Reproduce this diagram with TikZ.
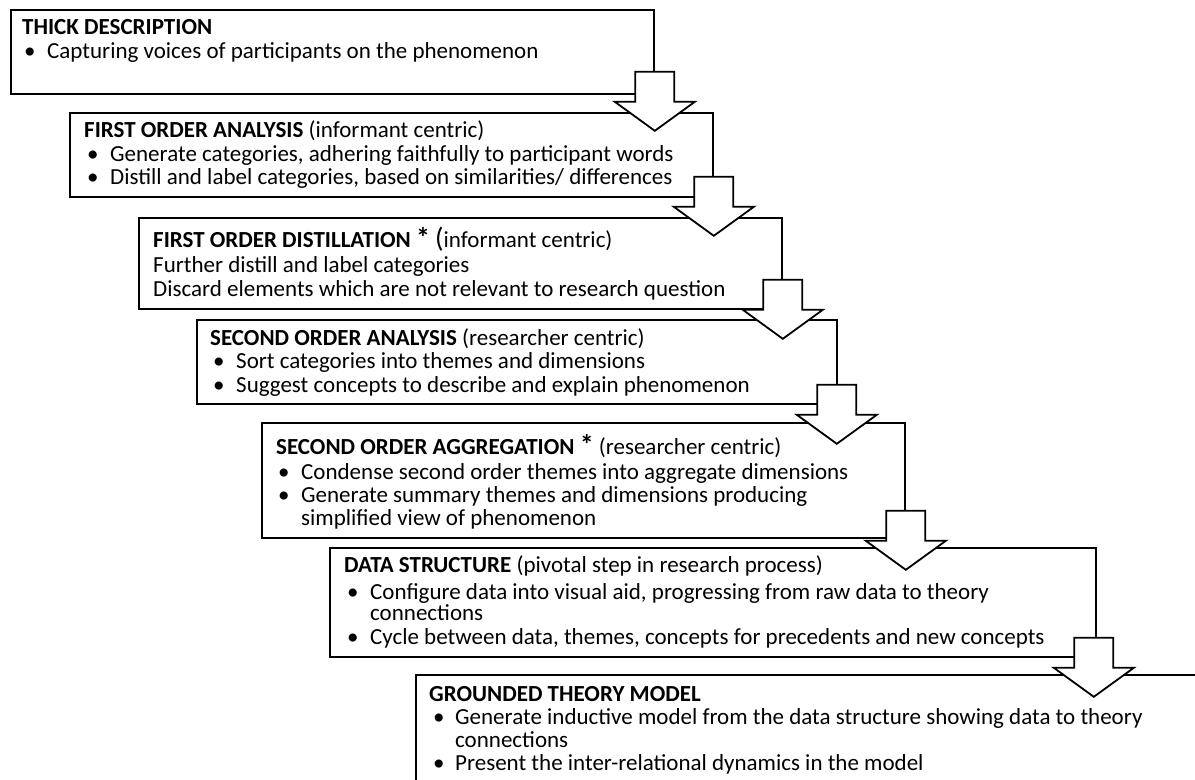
\documentclass[tikz,border=0pt]{standalone}
\usepackage{fontspec}
\setmainfont{Carlito}
\usetikzlibrary{calc}
\tikzset{
  x=1bp, y=-1bp,
  stepbox/.style={draw, line width=1.8bp, inner sep=0, anchor=north west},
  txt/.style={anchor=base west, inner sep=0, font=\fontsize{23bp}{23.5bp}\selectfont},
  barrow/.style={draw, line width=1.8bp, fill=white, line join=miter},
  pics/blockarr/.style={code={\draw[barrow] (-19.5,0) -- (19.5,0) -- (19.5,30) -- (40,30) -- (0,59) -- (-40,30) -- (-19.5,30) -- cycle;}}
}
\newcommand{\bigstar}{{\fontsize{28bp}{28bp}\selectfont\textbf{*}}}
\begin{document}
\begin{tikzpicture}
\useasboundingbox (0,0) rectangle (1195,780);
\clip (0,0) rectangle (1195,780);
% boxes
\node[stepbox, minimum width=643bp, minimum height=84bp] (b1) at (10,9) {};
\node[stepbox, minimum width=643bp, minimum height=84bp] (b2) at (69,112) {};
\node[stepbox, minimum width=643bp, minimum height=91bp] (b3) at (138,217) {};
\node[stepbox, minimum width=640bp, minimum height=84bp] (b4) at (196,319) {};
\node[stepbox, minimum width=643bp, minimum height=115bp] (b5) at (261,422) {};
\node[stepbox, minimum width=766bp, minimum height=109bp] (b6) at (329,547) {};
\node[stepbox, minimum width=820bp, minimum height=200bp] (b7) at (415,674) {};
% box 1
\node[txt] (t1) at (22,35) {\textbf{THICK DESCRIPTION}};
\node[txt] (p1a) at (24,59) {•};
\node[txt] (t1a) at (47,59) {Capturing voices of participants on the phenomenon};
% box 2
\node[txt] (t2) at (84,137) {\textbf{FIRST ORDER ANALYSIS} (informant centric)};
\node[txt] (p2a) at (87,161) {•};
\node[txt] (t2a) at (110,161) {Generate categories, adhering faithfully to participant words};
\node[txt] (p2b) at (87,184) {•};
\node[txt] (t2b) at (110,184) {Distill and label categories, based on similarities/ differences};
% box 3
\node[txt] (t3) at (153,247) {\textbf{FIRST ORDER DISTILLATION} \bigstar\ {\fontsize{28bp}{28bp}\selectfont(}informant centric)};
\node[txt] (t3a) at (153,272) {Further distill and label categories};
\node[txt] (t3b) at (153,296) {Discard elements which are not relevant to research question};
% box 4
\node[txt] (t4) at (210,345) {\textbf{SECOND ORDER ANALYSIS} (researcher centric)};
\node[txt] (p4a) at (213,368) {•};
\node[txt] (t4a) at (236,368) {Sort categories into themes and dimensions};
\node[txt] (p4b) at (213,392) {•};
\node[txt] (t4b) at (236,392) {Suggest concepts to describe and explain phenomenon};
% box 5
\node[txt] (t5) at (276,454) {\textbf{SECOND ORDER AGGREGATION} \bigstar\ (researcher centric)};
\node[txt] (p5a) at (278,479) {•};
\node[txt] (t5a) at (301,479) {Condense second order themes into aggregate dimensions};
\node[txt] (p5b) at (278,502) {•};
\node[txt] (t5b) at (301,502) {Generate summary themes and dimensions producing};
\node[txt] (t5c) at (301,525) {simplified view of phenomenon};
% box 6
\node[txt] (t6) at (344,572) {\textbf{DATA STRUCTURE} (pivotal step in research process)};
\node[txt] (p6a) at (347,599) {•};
\node[txt] (t6a) at (370,599) {Configure data into visual aid, progressing from raw data to theory};
\node[txt] (t6b) at (370,620) {connections};
\node[txt] (p6c) at (347,644) {•};
\node[txt] (t6c) at (370,644) {Cycle between data, themes, concepts for precedents and new concepts};
% box 7
\node[txt] (t7) at (429,701) {\textbf{GROUNDED THEORY MODEL}};
\node[txt] (p7a) at (433,724) {•};
\node[txt] (t7a) at (455,724) {Generate inductive model from the data structure showing data to theory};
\node[txt] (t7b) at (455,747) {connections};
\node[txt] (p7c) at (433,770) {•};
\node[txt] (t7c) at (455,770) {Present the inter-relational dynamics in the model};
% arrows
\pic at ($(b1.south east)+(0,-23)$) {blockarr};
\pic at ($(b2.south east)+(0,-21)$) {blockarr};
\pic at ($(b3.south east)+(0,-30)$) {blockarr};
\pic at ($(b4.south east)+(-1,-20)$) {blockarr};
\pic at ($(b5.south east)+(0,-28)$) {blockarr};
\pic at ($(b6.south east)+(-3,-20)$) {blockarr};
\end{tikzpicture}
\end{document}
